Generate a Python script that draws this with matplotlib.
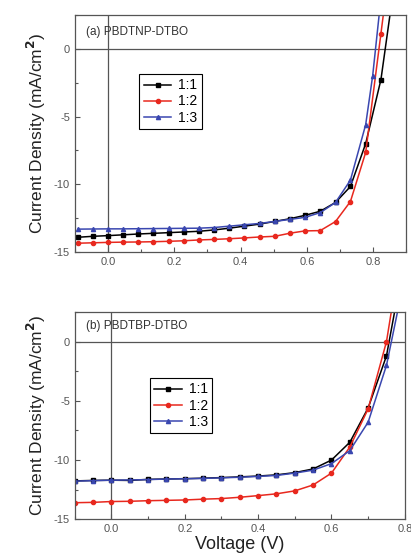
import numpy as np
import matplotlib
matplotlib.use("Agg")
import matplotlib.pyplot as plt
from matplotlib.ticker import MultipleLocator

plt.rcParams['font.family'] = ['Liberation Sans', 'DejaVu Sans']

# panel (a) PBDTNP-DTBO
va = [-0.09, -0.045, 0.0, 0.046, 0.091, 0.137, 0.183, 0.229, 0.274, 0.32, 0.366,
      0.411, 0.457, 0.503, 0.549, 0.594, 0.64, 0.686, 0.731, 0.777, 0.823, 0.869]
ja_11 = [-13.92, -13.85, -13.8, -13.74, -13.68, -13.63, -13.58, -13.53, -13.48, -13.38, -13.25,
         -13.1, -12.95, -12.75, -12.55, -12.3, -12.0, -11.35, -10.17, -7.0, -2.27, 5.8]
ja_12 = [-14.36, -14.33, -14.3, -14.28, -14.27, -14.25, -14.22, -14.18, -14.12, -14.08, -14.03,
         -13.97, -13.9, -13.85, -13.62, -13.45, -13.43, -12.76, -11.28, -7.65, 1.13, 10.0]
va_13 = [-0.09, -0.045, 0.0, 0.046, 0.091, 0.137, 0.183, 0.229, 0.274, 0.32, 0.366,
         0.411, 0.457, 0.503, 0.549, 0.594, 0.64, 0.686, 0.731, 0.777, 0.798, 0.823]
ja_13 = [-13.32, -13.31, -13.3, -13.3, -13.29, -13.28, -13.27, -13.26, -13.25, -13.2, -13.1,
         -13.0, -12.9, -12.75, -12.6, -12.45, -12.1, -11.35, -9.7, -5.6, -2.0, 3.75]

# panel (b) PBDTBP-DTBO
vb = [-0.1, -0.05, 0.0, 0.05, 0.1, 0.15, 0.2, 0.25, 0.3, 0.35, 0.4,
      0.45, 0.5, 0.55, 0.6, 0.65, 0.7, 0.75, 0.8]
jb_11 = [-11.76, -11.72, -11.7, -11.72, -11.63, -11.6, -11.57, -11.53, -11.48, -11.42, -11.35,
         -11.25, -11.06, -10.75, -10.0, -8.5, -5.6, -1.2, 7.2]
jb_12 = [-13.6, -13.57, -13.5, -13.48, -13.43, -13.4, -13.37, -13.3, -13.25, -13.14, -13.0,
         -12.85, -12.6, -12.1, -11.1, -8.9, -5.68, 0.0, 9.6]
jb_13 = [-11.78, -11.74, -11.7, -11.68, -11.65, -11.6, -11.58, -11.55, -11.5, -11.45, -11.38,
         -11.3, -11.1, -10.85, -10.3, -9.2, -6.8, -2.0, 5.5]

labels = ['1:1', '1:2', '1:3']
colors = ['black', '#e8281e', '#3a47b0']
markers = ['s', 'o', '^']

fig = plt.figure(figsize=(4.11, 5.56), dpi=100)
ax1 = fig.add_axes([0.182, 0.547, 0.807, 0.426])
ax2 = fig.add_axes([0.182, 0.066, 0.803, 0.373])

panels = [
    (ax1, [(va, ja_11), (va, ja_12), (va_13, ja_13)], '(a) PBDTNP-DTBO', (-0.1, 0.9),
     (0.195, 0.75)),
    (ax2, [(vb, jb_11), (vb, jb_12), (vb, jb_13)], '(b) PBDTBP-DTBO', (-0.1, 0.8),
     (0.228, 0.68)),
]

for ax, series, title, xlim, legpos in panels:
    for (x, y), lab, c, m in zip(series, labels, colors, markers):
        ax.plot(x, y, color=c, marker=m, markersize=3.0, lw=1.1, label=lab)
    ax.axhline(0, color='#555555', lw=0.9, zorder=0)
    ax.axvline(0, color='#555555', lw=0.9, zorder=0)
    ax.set_xlim(*xlim)
    ax.set_ylim(-15, 2.5)
    ax.xaxis.set_major_locator(MultipleLocator(0.2))
    ax.xaxis.set_minor_locator(MultipleLocator(0.1))
    ax.yaxis.set_major_locator(MultipleLocator(5))
    ax.yaxis.set_minor_locator(MultipleLocator(2.5))
    ax.tick_params(which='both', direction='in', labelsize=8, colors='#555555',
                   width=0.8)
    ax.tick_params(which='major', length=3.5)
    ax.tick_params(which='minor', length=2)
    ax.set_xticklabels([f'{t:.1f}' for t in ax.get_xticks()])
    ax.set_yticklabels([f'{t:g}' for t in ax.get_yticks()])
    for s in ax.spines.values():
        s.set_color('#555555')
        s.set_linewidth(0.9)
    ax.text(0.035, 0.93, title, transform=ax.transAxes, fontsize=8.5,
            color='#333333', va='center')
    leg = ax.legend(loc='upper left', bbox_to_anchor=legpos, fontsize=10,
                    handlelength=2.0, handletextpad=0.5, borderpad=0.3,
                    borderaxespad=0, labelspacing=0.15, fancybox=False,
                    edgecolor='black', framealpha=1)
    leg.get_frame().set_linewidth(0.8)
    ax.set_ylabel('Current Density (mA/cm$^{\\mathbf{2}}$)', fontsize=12.5,
                  color='#222222', labelpad=4)

ax2.set_xlabel('Voltage (V)', fontsize=13, color='#222222', labelpad=1)

fig.savefig('out.png', dpi=100)
